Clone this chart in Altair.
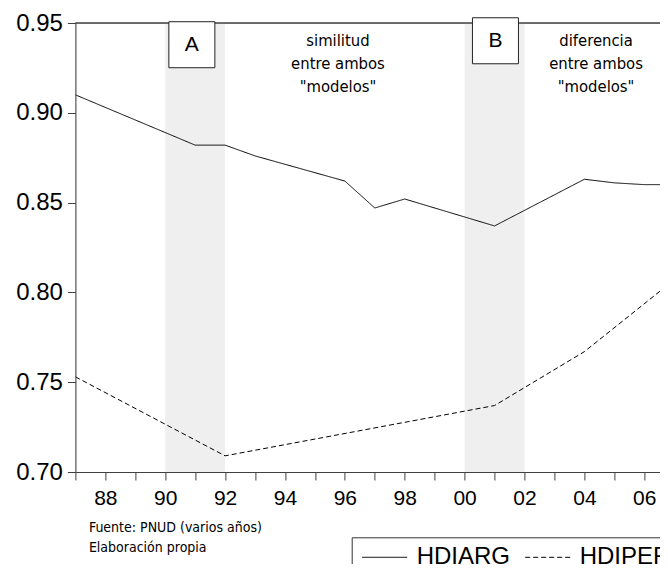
import altair as alt
import pandas as pd

# ---- data ----
years_arg = [1987, 1991, 1992, 1993, 1996, 1997, 1998, 2001, 2004, 2005, 2006, 2007]
hdiarg = [0.910, 0.882, 0.882, 0.876, 0.862, 0.847, 0.852, 0.837, 0.863, 0.861, 0.860, 0.860]
years_per = [1987, 1992, 2001, 2004, 2007]
hdiper = [0.753, 0.709, 0.737, 0.767, 0.807]
series = ["HDIARG", "HDIPER"]

band_start = [1990, 2000]
band_end = [1992, 2002]

box_labels = ["A", "B"]
box_x = [1990.89, 2001.03]
box_y = [0.9379, 0.9401]

note_text = ["similitud\nentre ambos\n\"modelos\"", "diferencia\nentre ambos\n\"modelos\""]
note_x = [1995.77, 2004.39]
note_y = [0.9372, 0.9372]

x_ticks = list(range(1987, 2007))
y_ticks = [0.70, 0.75, 0.80, 0.85, 0.90, 0.95]
source_lines = ["Fuente: PNUD (varios años)", "Elaboración propia"]

# ---- tables ----
df_lines = pd.DataFrame({
    "year": years_arg + years_per,
    "value": hdiarg + hdiper,
    "series": [series[0]] * len(years_arg) + [series[1]] * len(years_per),
})
df_bands = pd.DataFrame({"start": band_start, "end": band_end})
df_boxes = pd.DataFrame({"label": box_labels, "year": box_x, "value": box_y})
df_notes = pd.DataFrame({"text": note_text, "year": note_x, "value": note_y})

AX = "#404040"
NARROW = "DejaVu Sans Condensed, Liberation Sans, sans-serif"
xscale = alt.Scale(domain=[1987, 2006.526], nice=False, zero=False)
yscale = alt.Scale(domain=[0.70, 0.95], nice=False, zero=False)

axis_x = alt.Axis(
    values=x_ticks, grid=False, tickSize=8,
    labelExpr="datum.value % 2 == 0 ? slice('0' + (datum.value % 100), -2) : ''",
    labelFont="Liberation Sans", labelFontSize=21, labelColor="black",
    labelPadding=7, domainColor=AX, tickColor=AX, labelOverlap=False,
    labelFlush=False, zindex=1,
    title=source_lines, titleFont=NARROW, titleFontSize=14,
    titleFontWeight="normal", titleColor="black", titleLineHeight=20,
    titleX=13, titleY=59.7, titleAlign="left", titleBaseline="alphabetic",
    titleAnchor="start",
)
axis_y = alt.Axis(
    values=y_ticks, format=".2f", title=None, grid=False, tickSize=8,
    labelFont="Liberation Sans", labelFontSize=24, labelColor="black",
    labelPadding=5, domainColor=AX, tickColor=AX, labelOverlap=False,
    labelFlush=False, zindex=1,
)


def X(field):
    return alt.X(field, type="quantitative", scale=xscale, axis=axis_x)


def Y(field):
    return alt.Y(field, type="quantitative", scale=yscale, axis=axis_y)


bands = alt.Chart(df_bands).mark_rect(color="#efefef").encode(
    x=X("start"), x2="end"
)

lines = alt.Chart(df_lines).mark_line(color="black", strokeWidth=1, clip=True).encode(
    x=X("year"),
    y=Y("value"),
    strokeDash=alt.StrokeDash(
        "series:N",
        scale=alt.Scale(domain=series, range=[[1, 0], [5, 3]]),
        legend=alt.Legend(
            title=None, orient="none", legendX=276.3, legendY=514.3,
            direction="horizontal", strokeColor="#333", fillColor="white",
            padding=0, labelFont="Liberation Sans", labelFontSize=24,
            labelColor="black", symbolType="stroke", symbolSize=2025,
            symbolStrokeColor="black", symbolStrokeWidth=1, symbolOffset=10,
            labelOffset=9, columnPadding=4, clipHeight=40,
        ),
    ),
)

top_rule = alt.Chart(df_bands).mark_rule(color=AX, strokeWidth=1).encode(
    y=alt.Y(datum=0.95, scale=yscale, axis=axis_y)
)

boxes = alt.Chart(df_boxes).mark_point(
    shape="square", size=2116, filled=True, fill="white", stroke="#222",
    strokeWidth=1, opacity=1,
).encode(x=X("year"), y=Y("value"))

box_text = alt.Chart(df_boxes).mark_text(
    font="Liberation Sans", fontSize=21, color="black", baseline="middle", align="center"
).encode(x=X("year"), y=Y("value"), text="label:N")

notes = alt.Chart(df_notes).mark_text(
    font=NARROW, fontSize=16.5,
    color="black", baseline="alphabetic", align="center", lineBreak="\n",
    lineHeight=23,
).encode(x=X("year"), y=Y("value"), text="text:N")

chart = alt.layer(bands, lines, top_rule, boxes, box_text, notes).properties(
    width=584.6,
    height=449,
    autosize=alt.AutoSizeParams(type="none"),
    padding={"left": 67.4, "top": 15, "right": 0, "bottom": 92},
).configure_view(stroke=None).configure(background="white")

chart.save("out.html", embed_options={"renderer": "svg", "actions": False})
